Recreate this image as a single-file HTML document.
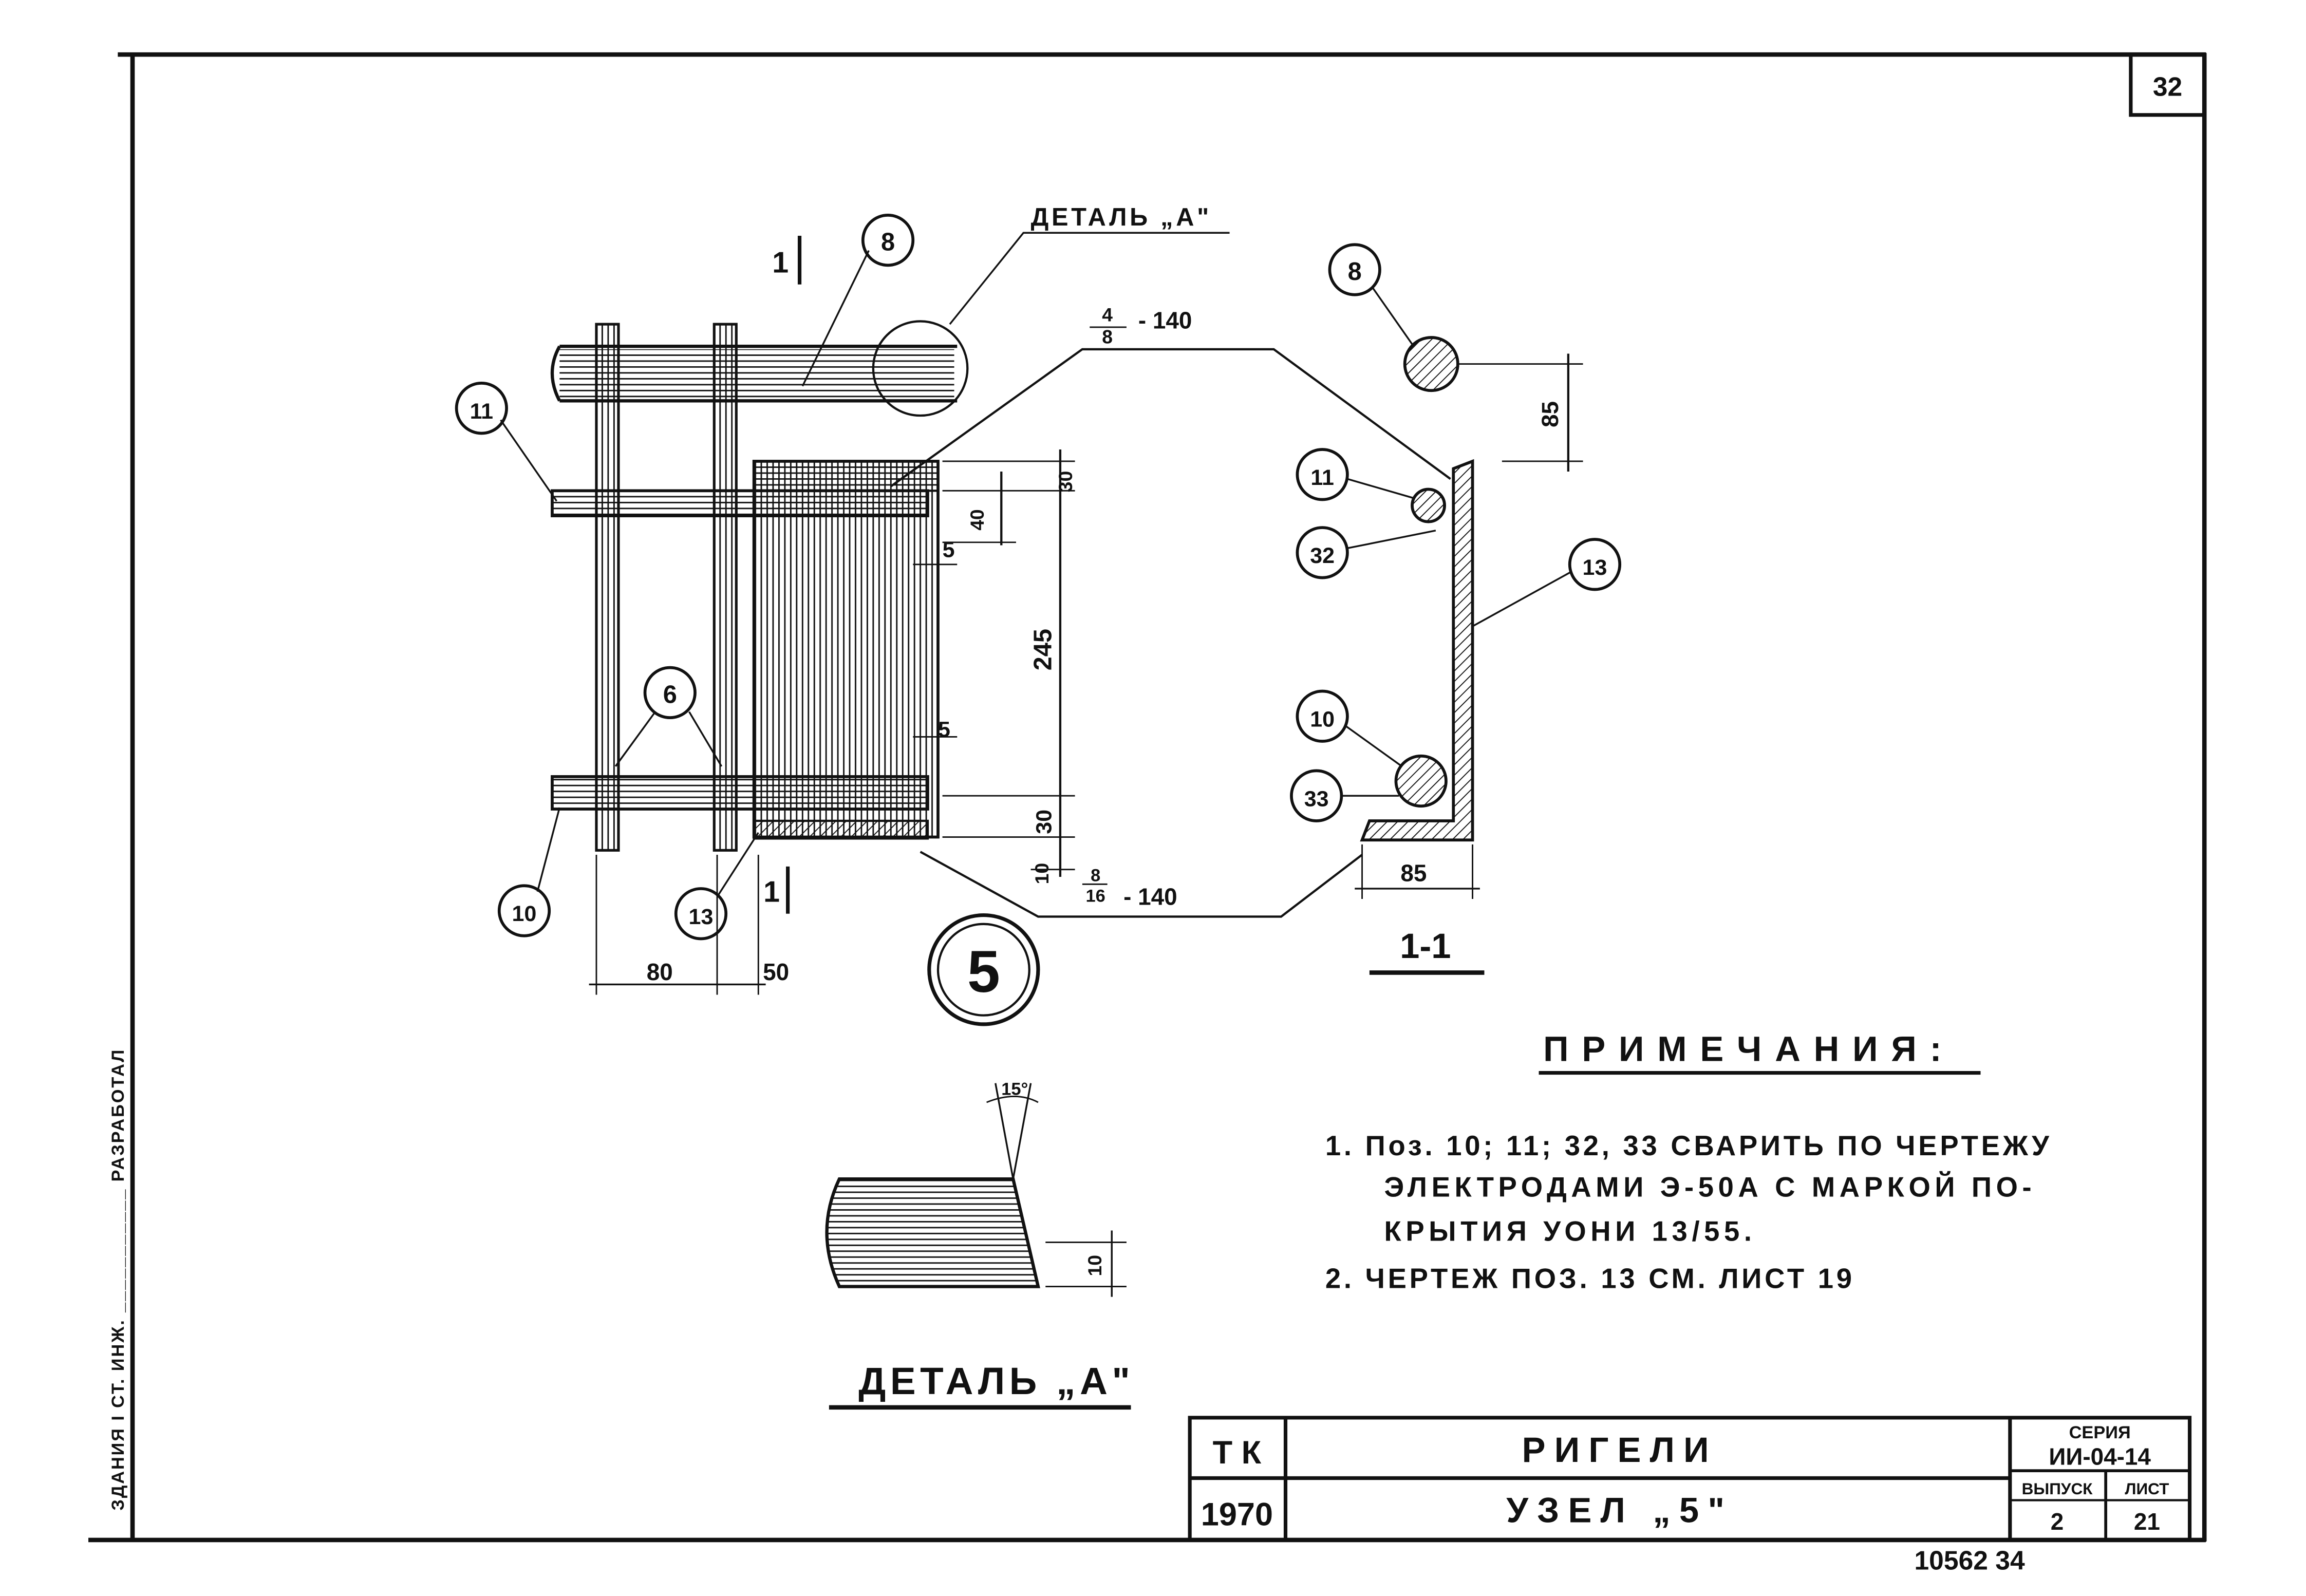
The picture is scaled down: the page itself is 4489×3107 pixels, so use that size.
<!DOCTYPE html>
<html><head><meta charset="utf-8"><style>
html,body{margin:0;padding:0;background:#fff}
svg{display:block}
text{font-family:"Liberation Sans","DejaVu Sans",sans-serif;font-weight:bold;fill:#111}
</style></head><body>
<svg width="4489" height="3107" viewBox="0 0 1566 1083" preserveAspectRatio="none" xmlns="http://www.w3.org/2000/svg">
<defs>
<pattern id="h" width="5" height="5" patternUnits="userSpaceOnUse" patternTransform="rotate(45)"><line x1="0" y1="0" x2="0" y2="5" stroke="#111" stroke-width="1.3"/></pattern>
<pattern id="v" width="4" height="10" patternUnits="userSpaceOnUse"><line x1="1" y1="0" x2="1" y2="10" stroke="#111" stroke-width="1"/></pattern>
<pattern id="hz" width="10" height="4" patternUnits="userSpaceOnUse"><line x1="0" y1="1" x2="10" y2="1" stroke="#111" stroke-width="1"/></pattern>
</defs>
<g stroke="#111" fill="none">
<line x1="80" y1="37" x2="1498" y2="37" stroke-width="3"/>
<line x1="1497" y1="36" x2="1497" y2="1046" stroke-width="3"/>
<line x1="60" y1="1045" x2="1498" y2="1045" stroke-width="3"/>
<line x1="90" y1="36" x2="90" y2="1046" stroke-width="3"/>
<rect x="1447" y="37" width="50" height="41" stroke-width="2.5"/>
<rect x="808" y="962" width="679" height="83" stroke-width="2.5"/>
<line x1="873" y1="962" x2="873" y2="1045" stroke-width="2.5"/>
<line x1="1365" y1="962" x2="1365" y2="1045" stroke-width="2.5"/>
<line x1="808" y1="1003" x2="1365" y2="1003" stroke-width="2.5"/>
<line x1="1365" y1="998" x2="1487" y2="998" stroke-width="2"/>
<line x1="1430" y1="998" x2="1430" y2="1045" stroke-width="2"/>
<line x1="1365" y1="1018" x2="1487" y2="1018" stroke-width="1.5"/>

<rect x="405" y="220" width="15" height="357" fill="url(#v)" stroke-width="1.8"/>
<rect x="485" y="220" width="15" height="357" fill="url(#v)" stroke-width="1.8"/>
<rect x="512" y="313" width="125" height="255" fill="url(#v)" stroke-width="2"/>
<rect x="512" y="557" width="118" height="12" fill="url(#h)" stroke-width="1.5"/>
<rect x="512" y="313" width="125" height="20" fill="url(#hz)" stroke-width="1.5"/>
<path d="M380 235 H650 M380 272 H650 M380 235 Q370 253 380 272" stroke-width="2.2" fill="#fff"/>
<rect x="380" y="237" width="268" height="33" fill="url(#hz)" stroke="none"/>
<circle cx="625" cy="250" r="32" stroke-width="1.5"/>
<rect x="375" y="333" width="255" height="17" fill="url(#hz)" stroke-width="2"/>
<rect x="375" y="527" width="255" height="22" fill="url(#hz)" stroke-width="2"/>
<line x1="720" y1="305" x2="720" y2="595" stroke-width="1.5"/>
<line x1="680" y1="320" x2="680" y2="370" stroke-width="1.5"/>
<line x1="640" y1="313" x2="730" y2="313" stroke-width="1"/>
<line x1="640" y1="333" x2="730" y2="333" stroke-width="1"/>
<line x1="640" y1="368" x2="690" y2="368" stroke-width="1"/>
<line x1="640" y1="540" x2="730" y2="540" stroke-width="1"/>
<line x1="640" y1="568" x2="730" y2="568" stroke-width="1"/>
<line x1="700" y1="590" x2="730" y2="590" stroke-width="1"/>
<line x1="620" y1="383" x2="650" y2="383" stroke-width="1"/>
<line x1="620" y1="500" x2="650" y2="500" stroke-width="1"/>
<polyline points="605,330 735,237 865,237 985,325" stroke-width="1.5"/>
<polyline points="625,578 705,622 870,622 925,580" stroke-width="1.5"/>
<line x1="740" y1="222" x2="765" y2="222" stroke-width="1"/>
<line x1="735" y1="600" x2="752" y2="600" stroke-width="1"/>
<line x1="543" y1="160" x2="543" y2="193" stroke-width="2.5"/>
<line x1="535" y1="588" x2="535" y2="620" stroke-width="2.5"/>
<line x1="590" y1="170" x2="545" y2="262" stroke-width="1.2"/>
<line x1="340" y1="285" x2="378" y2="340" stroke-width="1.2"/>
<line x1="445" y1="483" x2="418" y2="520" stroke-width="1.2"/>
<line x1="468" y1="483" x2="490" y2="520" stroke-width="1.2"/>
<line x1="365" y1="605" x2="380" y2="548" stroke-width="1.2"/>
<line x1="488" y1="607" x2="515" y2="565" stroke-width="1.2"/>
<polyline points="645,220 695,158 835,158" stroke-width="1.2"/>
<line x1="400" y1="668" x2="520" y2="668" stroke-width="1.2"/>
<line x1="405" y1="580" x2="405" y2="675" stroke-width="1"/>
<line x1="487" y1="580" x2="487" y2="675" stroke-width="1"/>
<line x1="515" y1="580" x2="515" y2="675" stroke-width="1"/>
<circle cx="603" cy="163" r="17" stroke-width="2"/>
<circle cx="327" cy="277" r="17" stroke-width="2"/>
<circle cx="455" cy="470" r="17" stroke-width="2"/>
<circle cx="356" cy="618" r="17" stroke-width="2"/>
<circle cx="476" cy="620" r="17" stroke-width="2"/>
<circle cx="668" cy="658" r="37" stroke-width="2.5"/>
<circle cx="668" cy="658" r="31" stroke-width="1.5"/>

<circle cx="972" cy="247" r="18" fill="url(#h)" stroke-width="2"/>
<circle cx="920" cy="183" r="17" stroke-width="2"/>
<line x1="932" y1="195" x2="960" y2="235" stroke-width="1.2"/>
<line x1="990" y1="247" x2="1075" y2="247" stroke-width="1"/>
<line x1="1020" y1="313" x2="1075" y2="313" stroke-width="1"/>
<line x1="1065" y1="240" x2="1065" y2="320" stroke-width="1.5"/>
<path d="M987 318 L1000 313 V570 H925 L930 557 H987 Z" fill="url(#h)" stroke-width="2"/>
<circle cx="970" cy="343" r="11" fill="url(#h)" stroke-width="2"/>
<circle cx="965" cy="530" r="17" fill="url(#h)" stroke-width="2"/>
<circle cx="898" cy="322" r="17" stroke-width="2"/>
<circle cx="898" cy="375" r="17" stroke-width="2"/>
<circle cx="1083" cy="383" r="17" stroke-width="2"/>
<circle cx="898" cy="486" r="17" stroke-width="2"/>
<circle cx="894" cy="540" r="17" stroke-width="2"/>
<line x1="915" y1="325" x2="960" y2="338" stroke-width="1.2"/>
<line x1="915" y1="372" x2="975" y2="360" stroke-width="1.2"/>
<line x1="1067" y1="388" x2="1000" y2="425" stroke-width="1.2"/>
<line x1="913" y1="492" x2="952" y2="520" stroke-width="1.2"/>
<line x1="911" y1="540" x2="950" y2="540" stroke-width="1.2"/>
<line x1="920" y1="603" x2="1005" y2="603" stroke-width="1.2"/>
<line x1="925" y1="573" x2="925" y2="610" stroke-width="1"/>
<line x1="1000" y1="573" x2="1000" y2="610" stroke-width="1"/>
<line x1="930" y1="660" x2="1008" y2="660" stroke-width="3"/>
<line x1="1045" y1="728" x2="1345" y2="728" stroke-width="2.5"/>

<path d="M570 800 H688 L705 873 H570 Q553 836 570 800 Z" fill="url(#hz)" stroke-width="2.2"/>
<line x1="688" y1="800" x2="676" y2="735" stroke-width="1.2"/>
<line x1="688" y1="800" x2="700" y2="735" stroke-width="1.2"/>
<path d="M670 748 Q690 740 705 748" stroke-width="1"/>
<line x1="755" y1="835" x2="755" y2="880" stroke-width="1.2"/>
<line x1="710" y1="843" x2="765" y2="843" stroke-width="1"/>
<line x1="710" y1="873" x2="765" y2="873" stroke-width="1"/>
<line x1="563" y1="955" x2="768" y2="955" stroke-width="3"/>
</g>

<text x="1472" y="65" font-size="18" text-anchor="middle">32</text>
<text x="840" y="993" font-size="22" text-anchor="middle">Т К</text>
<text x="840" y="1035" font-size="22" text-anchor="middle">1970</text>
<text x="1100" y="992" font-size="24" text-anchor="middle" letter-spacing="6">РИГЕЛИ</text>
<text x="1100" y="1033" font-size="24" text-anchor="middle" letter-spacing="6">УЗЕЛ „5"</text>
<text x="1426" y="976" font-size="12" text-anchor="middle">СЕРИЯ</text>
<text x="1426" y="994" font-size="16" text-anchor="middle">ИИ-04-14</text>
<text x="1397" y="1014" font-size="11" text-anchor="middle">ВЫПУСК</text>
<text x="1458" y="1014" font-size="11" text-anchor="middle">ЛИСТ</text>
<text x="1397" y="1038" font-size="16" text-anchor="middle">2</text>
<text x="1458" y="1038" font-size="16" text-anchor="middle">21</text>
<text x="1300" y="1065" font-size="18">10562   34</text>

<text x="603" y="170" font-size="17" text-anchor="middle">8</text>
<text x="327" y="284" font-size="15" text-anchor="middle">11</text>
<text x="455" y="477" font-size="17" text-anchor="middle">6</text>
<text x="356" y="625" font-size="15" text-anchor="middle">10</text>
<text x="476" y="627" font-size="15" text-anchor="middle">13</text>
<text x="668" y="673" font-size="40" text-anchor="middle" font-weight="normal">5</text>
<text x="530" y="185" font-size="20" text-anchor="middle">1</text>
<text x="524" y="612" font-size="20" text-anchor="middle">1</text>
<text x="700" y="153" font-size="17" letter-spacing="2">ДЕТАЛЬ „А"</text>
<text x="752" y="218" font-size="13" text-anchor="middle">4</text>
<text x="752" y="233" font-size="13" text-anchor="middle">8</text>
<text x="773" y="223" font-size="16">- 140</text>
<text x="744" y="598" font-size="12" text-anchor="middle">8</text>
<text x="744" y="612" font-size="12" text-anchor="middle">16</text>
<text x="763" y="614" font-size="16">- 140</text>
<text x="448" y="665" font-size="16" text-anchor="middle">80</text>
<text x="527" y="665" font-size="16" text-anchor="middle">50</text>
<text x="640" y="378" font-size="15">5</text>
<text x="637" y="500" font-size="15">5</text>
<text transform="translate(728,334) rotate(-90)" font-size="13">30</text>
<text transform="translate(668,360) rotate(-90)" font-size="13">40</text>
<text transform="translate(714,455) rotate(-90)" font-size="17">245</text>
<text transform="translate(714,566) rotate(-90)" font-size="15">30</text>
<text transform="translate(712,600) rotate(-90)" font-size="13">10</text>
<text transform="translate(1058,290) rotate(-90)" font-size="16">85</text>
<text x="920" y="190" font-size="17" text-anchor="middle">8</text>
<text x="898" y="329" font-size="15" text-anchor="middle">11</text>
<text x="898" y="382" font-size="15" text-anchor="middle">32</text>
<text x="1083" y="390" font-size="15" text-anchor="middle">13</text>
<text x="898" y="493" font-size="15" text-anchor="middle">10</text>
<text x="894" y="547" font-size="15" text-anchor="middle">33</text>
<text x="960" y="598" font-size="16" text-anchor="middle">85</text>
<text x="968" y="650" font-size="24" text-anchor="middle">1-1</text>

<text x="1048" y="720" font-size="24" letter-spacing="9">ПРИМЕЧАНИЯ:</text>
<text x="900" y="784" font-size="19" letter-spacing="2">1. Поз. 10; 11; 32, 33  СВАРИТЬ  ПО  ЧЕРТЕЖУ</text>
<text x="940" y="812" font-size="19" letter-spacing="3">ЭЛЕКТРОДАМИ  Э-50А С МАРКОЙ  ПО-</text>
<text x="940" y="842" font-size="19" letter-spacing="3">КРЫТИЯ  УОНИ  13/55.</text>
<text x="900" y="874" font-size="19" letter-spacing="2">2.  ЧЕРТЕЖ  ПОЗ.  13  СМ.  ЛИСТ  19</text>

<text x="680" y="743" font-size="12">15°</text>
<text transform="translate(748,866) rotate(-90)" font-size="13">10</text>
<text x="583" y="946" font-size="26" letter-spacing="3">ДЕТАЛЬ „А"</text>
<text transform="translate(84,1025) rotate(-90)" font-size="12" letter-spacing="1">ЗДАНИЯ  І СТ.  ИНЖ.  ___________  РАЗРАБОТАЛ</text>
</svg>
</body></html>
